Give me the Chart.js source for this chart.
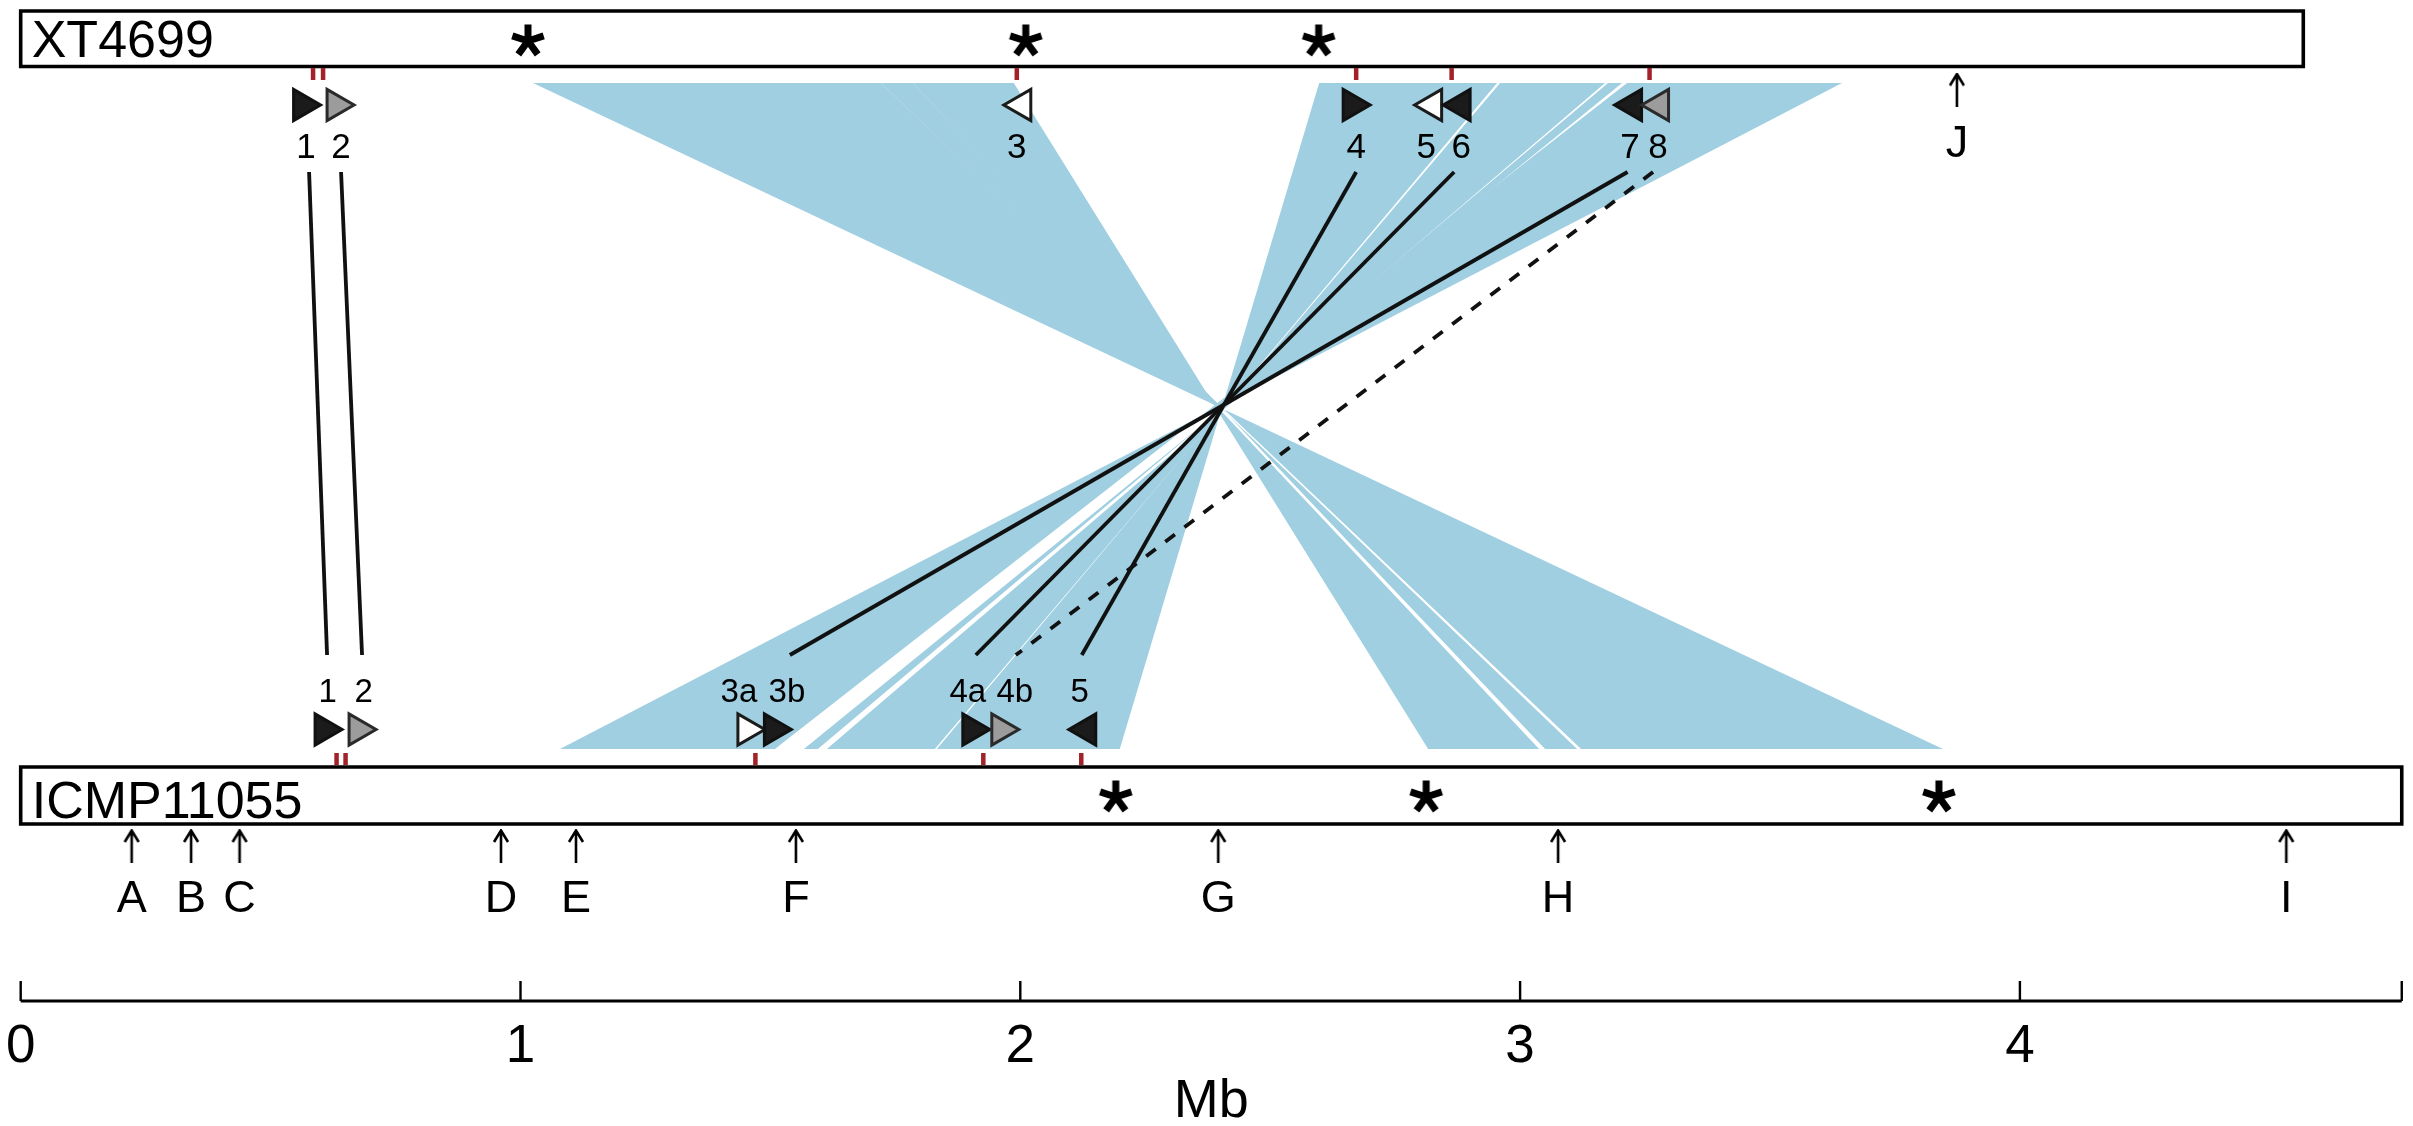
<!DOCTYPE html>
<html>
<head>
<meta charset="utf-8">
<script src="https://cdn.jsdelivr.net/npm/chart.js@4/dist/chart.umd.min.js"></script>
<style>
  html, body { margin: 0; padding: 0; background: #fff; overflow: hidden; }
  #wrap { width: 2413px; height: 1126px; }
</style>
</head>
<body>
<div id="wrap"><canvas id="chart"></canvas></div>
<script>
// genome tracks (Mb)
const trackNames = ['XT4699', 'ICMP11055'];
const trackEnd = [4.567, 4.764];

// asterisks on each track
const stars1 = [1.015, 2.011, 2.597];
const stars2 = [2.191, 2.812, 3.838];

// red gene ticks
const ticks1 = [0.585, 0.605, 1.993, 2.672, 2.863, 3.259];
const ticks2 = [0.632, 0.650, 1.470, 1.926, 2.122];

// genes on XT4699
const genes1 = ['1', '2', '3', '4', '5', '6', '7', '8'];
const genePos1 = [0.564, 0.631, 2.003, 2.664, 2.825, 2.882, 3.225, 3.279];
const geneDir1 = [1, 1, -1, 1, -1, -1, -1, -1];
const geneShade1 = ['black', 'grey', 'white', 'black', 'white', 'black', 'black', 'grey'];
const geneLab1 = [0.571, 0.641, 1.993, 2.672, 2.812, 2.882, 3.220, 3.276];

// genes on ICMP11055
const genes2 = ['1', '2', '3a', '3b', '4a', '4b', '5'];
const genePos2 = [0.607, 0.675, 1.453, 1.506, 1.903, 1.961, 2.133];
const geneDir2 = [1, 1, 1, 1, 1, 1, -1];
const geneShade2 = ['black', 'grey', 'white', 'black', 'black', 'grey', 'black'];
const geneLab2 = [0.614, 0.686, 1.437, 1.533, 1.895, 1.989, 2.119];

// links between genes
const linkFrom = [0.577, 0.641, 2.672, 2.868, 3.215, 3.266];
const linkTo = [0.613, 0.683, 2.123, 1.911, 1.539, 1.991];
const linkDashed = [false, false, false, false, false, true];

// syntenic blocks (inverted), start/end on each genome
const blockTopStart = [2.598, 2.960, 3.176, 3.214, 1.025, 1.721, 1.785];
const blockTopEnd = [2.954, 3.170, 3.204, 3.644, 1.721, 1.785, 1.987];
const blockBotStart = [1.833, 1.613, 1.567, 1.079, 3.122, 3.050, 2.816];
const blockBotEnd = [2.199, 1.829, 1.595, 1.509, 3.846, 3.114, 3.038];

// lettered markers
const marks1 = ['J'];
const markPos1 = [3.874];
const marks2 = ['A', 'B', 'C', 'D', 'E', 'F', 'G', 'H', 'I'];
const markPos2 = [0.222, 0.341, 0.438, 0.961, 1.111, 1.551, 2.396, 3.076, 4.533];

// scale bar
const axisTicks = [0, 1, 2, 3, 4];
const axisEnd = 4.764;
const axisTitle = 'Mb';

// layout (y in canvas pixels)
const Y = {
  box1: [11, 66.5], tick1: [68, 80], band1: 83, tri1: 105, lab1: 158, link1: 172,
  link2: 655, lab2: 702, tri2: 729.5, band2: 749, tick2: [753, 765], box2: [767, 824],
  star1: 41, star2: 797, arr1: 89.5, mlab1: 157, arr2: 846, mlab2: 912,
  axis: 1001, axisTick: 981, axisLab: 1062, title: 1117
};
const BLUE = '#9fcfe1';
const RED = '#a3222a';
const FONT = '"Liberation Sans", Arial, Helvetica, sans-serif';
const shades = {
  black: ['#1b1b1b', '#111'],
  grey: ['#9c9c9c', '#2a2a2a'],
  white: ['#ffffff', '#1b1b1b']
};

function arrowImg() {
  const c = document.createElement('canvas');
  c.width = 20; c.height = 34;
  const g = c.getContext('2d');
  g.strokeStyle = '#000';
  g.lineWidth = 2.6;
  g.beginPath();
  g.moveTo(10, 1.5); g.lineTo(10, 34);
  g.moveTo(3, 13); g.lineTo(10, 1.5); g.lineTo(17, 13);
  g.stroke();
  return c;
}

function starImg() {
  const c = document.createElement('canvas');
  c.width = 40; c.height = 40;
  const g = c.getContext('2d');
  g.strokeStyle = '#000';
  g.lineWidth = 7;
  g.beginPath();
  for (let k = 0; k < 5; k++) {
    const a = k * 72 * Math.PI / 180;
    g.moveTo(20, 20);
    g.lineTo(20 + Math.sin(a) * 16.5, 20 - Math.cos(a) * 16.5);
  }
  g.stroke();
  return c;
}

const datasets = [];
function seg(points, opts) {
  datasets.push(Object.assign({
    type: 'line', data: points, pointRadius: 0, borderColor: '#000',
    borderWidth: 3.5, fill: false, tension: 0, order: 3
  }, opts));
}

// blue synteny ribbons
blockTopStart.forEach((t0, i) => {
  const loop = [
    {x: t0, y: Y.band1}, {x: blockTopEnd[i], y: Y.band1},
    {x: blockBotStart[i], y: Y.band2}, {x: blockBotEnd[i], y: Y.band2}
  ];
  const pts = t0 < blockBotStart[i] ? loop : loop.slice(2).concat(loop.slice(0, 2));
  seg(pts, {fill: 'shape', backgroundColor: BLUE, borderColor: 'rgba(0,0,0,0)', borderWidth: 0, order: 9});
});

// genome boxes
[Y.box1, Y.box2].forEach((b, i) => {
  seg([{x: 0, y: b[0]}, {x: trackEnd[i], y: b[0]}, {x: trackEnd[i], y: b[1]},
       {x: 0, y: b[1]}, {x: 0, y: b[0]}],
      {borderWidth: 3.6, borderCapStyle: 'square', borderJoinStyle: 'miter', order: 5});
});

// red ticks
ticks1.forEach(v => seg([{x: v, y: Y.tick1[0]}, {x: v, y: Y.tick1[1]}], {borderColor: RED, borderWidth: 4.5}));
ticks2.forEach(v => seg([{x: v, y: Y.tick2[0]}, {x: v, y: Y.tick2[1]}], {borderColor: RED, borderWidth: 4.5}));

// gene links
linkFrom.forEach((v, i) => {
  seg([{x: v, y: Y.link1}, {x: linkTo[i], y: Y.link2}],
      {borderColor: '#111', borderWidth: 3.8, borderDash: linkDashed[i] ? [12, 12] : [], order: 2});
});

// scale bar
seg([{x: 0, y: Y.axis}, {x: axisEnd, y: Y.axis}], {borderWidth: 3.2});
axisTicks.concat([axisEnd]).forEach(v => seg([{x: v, y: Y.axisTick}, {x: v, y: Y.axis}], {borderWidth: 2.4}));

// gene triangles
function triSet(pos, dir, shade, yv) {
  datasets.push({
    type: 'line', showLine: false, fill: false, order: 1,
    data: pos.map(v => ({x: v, y: yv})),
    pointStyle: 'triangle', pointRadius: 18,
    pointRotation: dir.map(d => d > 0 ? 90 : -90),
    pointBackgroundColor: shade.map(s => shades[s][0]),
    pointBorderColor: shade.map(s => shades[s][1]),
    pointBorderWidth: 3
  });
}
triSet(genePos1, geneDir1, geneShade1, Y.tri1);
triSet(genePos2, geneDir2, geneShade2, Y.tri2);

// arrows and asterisks
const arrow = arrowImg();
const star = starImg();
function imgSet(pos, yv, img) {
  datasets.push({
    type: 'line', showLine: false, fill: false, order: 1,
    data: pos.map(v => ({x: v, y: yv})),
    pointStyle: img, pointRadius: 5
  });
}
imgSet(markPos1, Y.arr1, arrow);
imgSet(markPos2, Y.arr2, arrow);
imgSet(stars1, Y.star1, star);
imgSet(stars2, Y.star2, star);

// text labels
const texts = [];
trackNames.forEach((n, i) => texts.push({t: n, x: 0.022, y: i ? 818 : 57, size: 52, align: 'left'}));
genes1.forEach((g, i) => texts.push({t: g, x: geneLab1[i], y: Y.lab1, size: 35}));
genes2.forEach((g, i) => texts.push({t: g, x: geneLab2[i], y: Y.lab2, size: 33}));
marks1.forEach((m, i) => texts.push({t: m, x: markPos1[i], y: Y.mlab1, size: 45}));
marks2.forEach((m, i) => texts.push({t: m, x: markPos2[i], y: Y.mlab2, size: 45}));
axisTicks.forEach(v => texts.push({t: String(v), x: v, y: Y.axisLab, size: 53}));
texts.push({t: axisTitle, x: axisEnd / 2, y: Y.title, size: 54});

const textPlugin = {
  id: 'texts',
  afterDatasetsDraw(chart) {
    const {ctx} = chart;
    const xs = chart.scales.x, ys = chart.scales.y;
    ctx.save();
    ctx.fillStyle = '#000';
    ctx.textBaseline = 'alphabetic';
    texts.forEach(o => {
      ctx.font = o.size + 'px ' + FONT;
      ctx.textAlign = o.align || 'center';
      ctx.fillText(o.t, xs.getPixelForValue(o.x), ys.getPixelForValue(o.y));
    });
    ctx.restore();
  }
};

new Chart(document.getElementById('chart'), {
  type: 'line',
  data: {datasets: datasets},
  options: {
    responsive: true,
    maintainAspectRatio: false,
    animation: false,
    events: [],
    layout: {padding: 0, autoPadding: false},
    scales: {
      x: {type: 'linear', min: -0.0414, max: 4.7865, display: false},
      y: {type: 'linear', min: 0, max: 1126, reverse: true, display: false}
    },
    plugins: {
      legend: {display: false},
      tooltip: {enabled: false}
    }
  },
  plugins: [textPlugin]
});
</script>
</body>
</html>
